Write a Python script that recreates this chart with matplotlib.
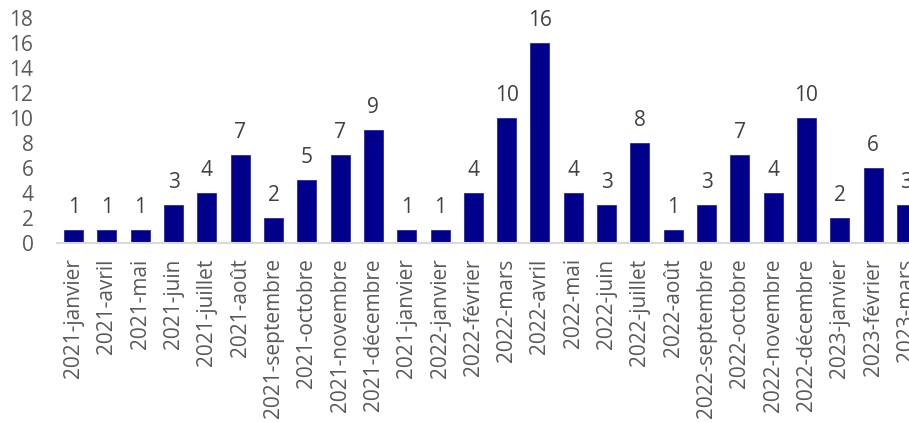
import matplotlib
matplotlib.use("Agg")
import matplotlib.pyplot as plt

categories = ["2021-janvier", "2021-avril", "2021-mai", "2021-juin", "2021-juillet",
              "2021-août", "2021-septembre", "2021-octobre", "2021-novembre",
              "2021-décembre", "2021-janvier", "2022-janvier", "2022-février",
              "2022-mars", "2022-avril", "2022-mai", "2022-juin", "2022-juillet",
              "2022-août", "2022-septembre", "2022-octobre", "2022-novembre",
              "2022-décembre", "2023-janvier", "2023-février", "2023-mars"]
values = [1, 1, 1, 3, 4, 7, 2, 5, 7, 9, 1, 1, 4, 10, 16, 4, 3, 8, 1, 3, 7, 4, 10, 2, 6, 3]
yticks = [0, 2, 4, 6, 8, 10, 12, 14, 16, 18]

plt.rcParams['font.family'] = ['Open Sans', 'DejaVu Sans']
text_color = "#595959"

fig = plt.figure(figsize=(9.09, 4.23), dpi=100)
ax = fig.add_axes([57/909, 180/423, 866/909, 225/423])

x = list(range(len(categories)))
ax.bar(x, values, width=0.57, color="#00008B", edgecolor="#2a2aa0", linewidth=0.6, zorder=3)
for xi, v in zip(x, values):
    ax.annotate(str(v), (xi, v), xytext=(0, 9), textcoords="offset points",
                ha="center", va="bottom", fontsize=15, color="#404040", annotation_clip=False)

ax.set_xlim(-0.5, len(categories) - 0.5)
ax.set_ylim(0, 18)
ax.set_yticks(yticks)
ax.set_yticklabels([str(t) for t in yticks])
ax.set_xticks(x)
ax.set_xticklabels(categories, rotation=90, va="top", ha="center")
ax.tick_params(axis="both", length=0, labelsize=15, labelcolor=text_color)
ax.tick_params(axis="x", pad=11)
ax.tick_params(axis="y", pad=17)
for s in ["top", "right", "left"]:
    ax.spines[s].set_visible(False)
ax.spines["bottom"].set_color("#D9D9D9")
ax.spines["bottom"].set_linewidth(1.5)
ax.spines["bottom"].set_zorder(4)

fig.savefig("out.png", dpi=100)
